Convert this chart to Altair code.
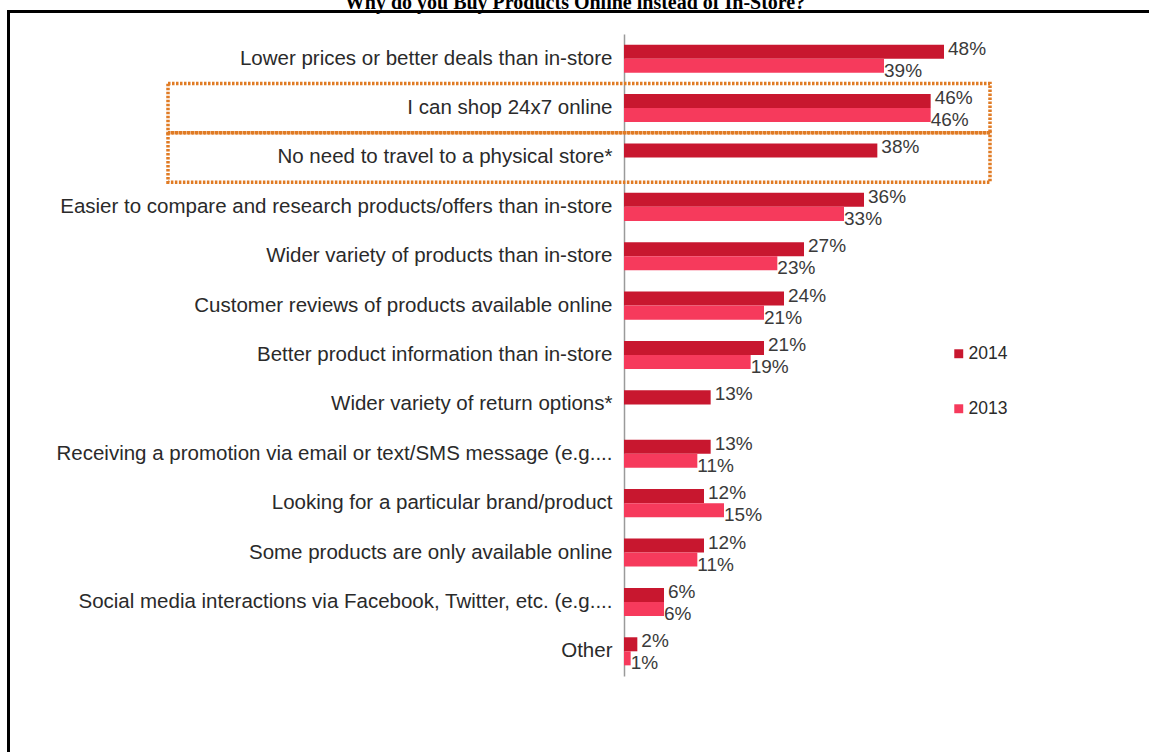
import altair as alt
import pandas as pd

categories = [
    "Lower prices or better deals than in-store",
    "I can shop 24x7 online",
    "No need to travel to a physical store*",
    "Easier to compare and research products/offers than in-store",
    "Wider variety of products than in-store",
    "Customer reviews of products available online",
    "Better product information than in-store",
    "Wider variety of return options*",
    "Receiving a promotion via email or text/SMS message (e.g....",
    "Looking for a particular brand/product",
    "Some products are only available online",
    "Social media interactions via Facebook, Twitter, etc. (e.g....",
    "Other",
]
values_2014 = [48, 46, 38, 36, 27, 24, 21, 13, 13, 12, 12, 6, 2]
values_2013 = [39, 46, None, 33, 23, 21, 19, None, 11, 15, 11, 6, 1]
years = ["2014", "2013"]
colors = ["#C8172F", "#F63A5C"]
highlighted = ["I can shop 24x7 online", "No need to travel to a physical store*"]
title_text = "Why do you Buy Products Online instead of In-Store?"

rows = []
for c, a, b in zip(categories, values_2014, values_2013):
    for yr, v in (("2014", a), ("2013", b)):
        if v is not None:
            rows.append({"cat": c, "year": yr, "value": v, "label": f"{v}%"})
df = pd.DataFrame(rows)

FONT = "Liberation Sans"

y_enc = alt.Y(
    "cat:N",
    sort=categories,
    scale=alt.Scale(domain=categories, paddingInner=0, paddingOuter=0),
    axis=alt.Axis(
        title=None, ticks=False, grid=False, labelFontSize=20.5, labelFont=FONT,
        labelColor="#2a2a2a", labelLimit=800, labelPadding=12,
        domainColor="#9a9a9a", domainWidth=1.5,
    ),
)
x_enc = alt.X("value:Q", scale=alt.Scale(domain=[0, 60]), axis=None)
yoff = alt.YOffset("year:N", sort=years,
                   scale=alt.Scale(domain=years, paddingInner=0, paddingOuter=0.76))

bars = alt.Chart(df).mark_bar().encode(
    y=y_enc, x=x_enc, yOffset=yoff,
    color=alt.Color(
        "year:N", sort=years,
        scale=alt.Scale(domain=years, range=colors),
        legend=alt.Legend(
            title=None, orient="none", legendX=326, legendY=311,
            symbolType="square", symbolSize=80, symbolStrokeWidth=0,
            labelFontSize=17.5, labelFont=FONT, labelColor="#2a2a2a",
            rowPadding=36, labelOffset=1,
        ),
    ),
)

labels_2014 = alt.Chart(df).transform_filter("datum.year == '2014'").mark_text(
    align="left", baseline="middle", dx=4, dy=-3, fontSize=19, font=FONT, color="#3a3a3a"
).encode(y=alt.Y("cat:N", sort=categories), x="value:Q", yOffset=yoff, text="label:N")

labels_2013 = alt.Chart(df).transform_filter("datum.year == '2013'").mark_text(
    align="left", baseline="middle", dx=0, dy=5, fontSize=19, font=FONT, color="#3a3a3a"
).encode(y=alt.Y("cat:N", sort=categories), x="value:Q", yOffset=yoff, text="label:N")

box_df = pd.DataFrame({"cat": highlighted})
boxes = alt.Chart(box_df).mark_rect(
    filled=False, stroke="#E07B24", strokeWidth=3.5, strokeDash=[2.5, 1.5]
).encode(y=alt.Y("cat:N", sort=categories), x=alt.value(-456), x2=alt.value(366))

one = pd.DataFrame({"t": [title_text]})
border = alt.Chart(one).mark_rect(
    filled=False, stroke="black", strokeWidth=3
).encode(x=alt.value(-615.5), x2=alt.value(700), y=alt.value(-22.5), y2=alt.value(900))

title = alt.Chart(one).mark_text(
    font="Liberation Serif", fontWeight="bold", fontSize=20, color="black",
    align="center", baseline="alphabetic"
).encode(x=alt.value(-49), y=alt.value(-25), text="t:N")

chart = alt.layer(bars, labels_2014, labels_2013, boxes, border, title).properties(
    width=400, height=642,
    padding={"left": 624, "top": 34, "right": 125, "bottom": 76},
    autosize=alt.AutoSizeParams(type="none"),
    background="white",
).configure_view(stroke=None)

chart.save("out.html", embed_options={"renderer": "svg", "actions": False})
